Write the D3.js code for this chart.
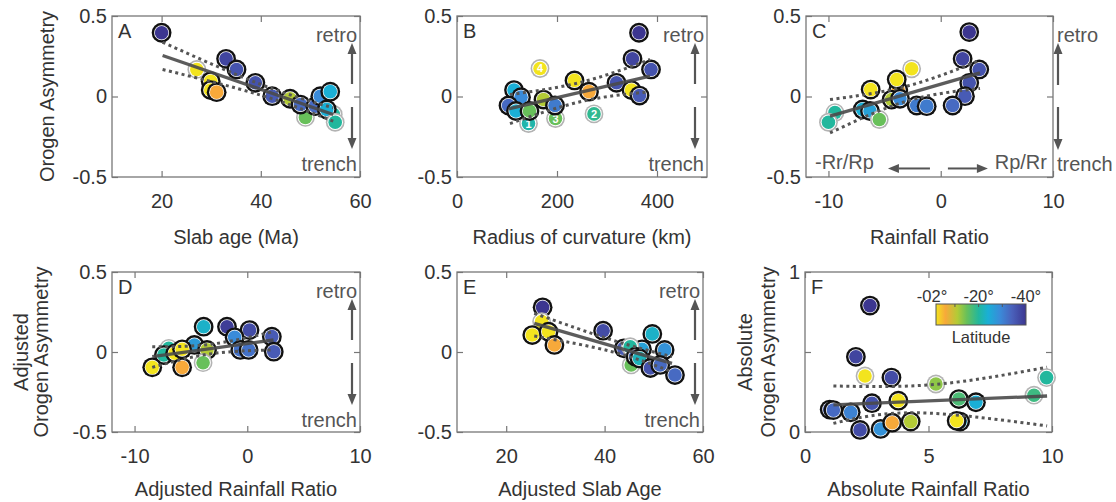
<!DOCTYPE html>
<html>
<head>
<meta charset="utf-8">
<script src="https://cdn.jsdelivr.net/npm/d3@7"></script>
<style>
  body { margin: 0; background: #fff; }
  svg { display: block; }
</style>
</head>
<body>
<svg id="fig" width="1116" height="502"></svg>
<script>
// ---- latitude colour map (degrees) ----
const latStops  = [-2, -6, -11, -15, -20, -24, -29, -34, -40];
const latColors = ["#f3e41e", "#f7a93a", "#b3cb36", "#68c05a", "#22b79d", "#1aafd6", "#3a8bd9", "#4a62bc", "#3c3690"];
const cbTicks = [-2, -20, -40];
const cbTickLabels = ["-02°", "-20°", "-40°"];

// ---- orogen points: [x, asymmetry, latitude, edge (1 = black, 0 = grey), label] ----
const ptsA = [
  [20.0, 0.396, -40, 1], [27.1, 0.168, -2, 0], [29.9, 0.095, -2, 1], [29.9, 0.040, -2, 1],
  [31.1, 0.027, -6, 1], [33.0, 0.234, -38, 1], [35.1, 0.168, -36, 1], [38.9, 0.085, -36, 1],
  [42.3, 0.002, -35, 1], [45.9, -0.014, -11, 1], [49.0, -0.130, -15, 0], [48.0, -0.050, -33, 1],
  [51.0, -0.060, -33, 1], [52.0, 0.002, -29, 1], [54.0, 0.030, -24, 1], [54.6, -0.110, -20, 0],
  [53.3, -0.080, -24, 1], [55.0, -0.160, -20, 0]
];
const ptsB = [
  [364, 0.396, -40, 1], [351, 0.234, -38, 1], [388, 0.168, -36, 1], [319, 0.085, -36, 1],
  [349, 0.040, -2, 1], [365, 0.006, -35, 1], [235, 0.100, -2, 1], [264, 0.030, -6, 1],
  [166, 0.174, -2, 0, "4"], [274, -0.108, -19, 0, "2"], [197, -0.137, -15, 0, "3"], [143, -0.168, -21, 0, "1"],
  [114, 0.040, -24, 1], [128, -0.004, -29, 1], [103, -0.056, -33, 1], [118, -0.090, -24, 1],
  [145, -0.090, -15, 1], [173, -0.019, -11, 1], [196, -0.056, -31, 1]
];
const ptsC = [
  [2.54, 0.400, -40, 1], [1.95, 0.234, -38, 1], [3.43, 0.168, -36, 1], [2.54, 0.085, -36, 1],
  [2.16, 0.002, -35, 1], [1.06, -0.056, -33, 1], [-2.59, 0.172, -2, 0], [-3.78, 0.040, -6, 1],
  [-3.92, 0.106, -2, 1], [-6.24, 0.043, -2, 1], [-4.37, -0.019, -11, 1], [-3.63, -0.014, -29, 1],
  [-2.14, -0.056, -31, 1], [-1.25, -0.060, -31, 1], [-6.95, -0.080, -24, 1], [-6.30, -0.090, -26, 1],
  [-5.47, -0.143, -15, 0], [-9.42, -0.100, -20, 0], [-10.0, -0.160, -20, 0]
];
const ptsD = [
  [-3.87, 0.158, -23, 1], [-1.80, 0.158, -39, 1], [0.20, 0.137, -37, 1], [-1.12, 0.092, -29, 1],
  [2.18, 0.096, -35, 1], [-0.62, 0.013, -32, 1], [0.12, 0.013, -32, 1], [2.35, 0.002, -35, 1],
  [-6.96, 0.023, -20, 0], [-7.40, -0.019, -20, 1], [-4.69, 0.044, -27, 1], [-6.40, -0.008, -2, 1],
  [-5.78, 0.017, -2, 1], [-3.57, 0.013, -11, 1], [-3.92, -0.067, -15, 0], [-5.78, -0.096, -6, 1],
  [-8.43, -0.096, -2, 1]
];
const ptsE = [
  [27.4, 0.279, -40, 1], [27.2, 0.190, -2, 0], [25.3, 0.106, -2, 1], [28.6, 0.127, -2, 1],
  [29.8, 0.044, -6, 1], [39.7, 0.133, -37, 1], [49.7, 0.113, -23, 1], [52.2, 0.013, -28, 1],
  [47.6, 0.017, -26, 1], [43.9, 0.023, -35, 1], [45.2, 0.033, -20, 0], [45.4, -0.081, -15, 0],
  [46.3, -0.029, -33, 1], [47.1, -0.040, -22, 1], [49.3, -0.100, -36, 1], [51.3, -0.081, -33, 1],
  [54.3, -0.144, -33, 1]
];
const ptsF = [
  [2.63, 0.790, -40, 1], [2.06, 0.470, -38, 1], [2.43, 0.350, -2, 0], [3.50, 0.340, -37, 1],
  [5.30, 0.300, -13, 0], [9.78, 0.340, -20, 0], [9.27, 0.230, -18, 0], [6.23, 0.206, -17, 1],
  [6.92, 0.186, -24, 1], [3.78, 0.196, -2, 1], [2.71, 0.180, -36, 1], [1.00, 0.140, -34, 1],
  [1.15, 0.137, -33, 1], [1.85, 0.123, -30, 1], [2.23, 0.013, -37, 1], [3.06, 0.019, -28, 1],
  [3.53, 0.058, -6, 1], [4.28, 0.065, -11, 1], [6.28, 0.065, -24, 1], [6.14, 0.070, -2, 1]
];

// ---- regression fits and confidence bounds: [x, y] ----
const fitA = [[20.2, 0.255], [54.6, -0.112]];
const upA  = [[20.2, 0.337], [40, 0.075], [54.6, -0.070]];
const loA  = [[20.2, 0.168], [40, 0.008], [54.6, -0.153]];
const fitB = [[103, -0.077], [386, 0.126]];
const upB  = [[106, 0.012], [250, 0.090], [386, 0.230]];
const loB  = [[106, -0.168], [250, -0.030], [379, 0.027]];
const fitC = [[-9.86, -0.122], [3.5, 0.147]];
const upC  = [[-9.86, -0.019], [-3.03, 0.064], [3.5, 0.225]];
const loC  = [[-9.86, -0.226], [-3.03, -0.029], [3.5, 0.050]];
const fitD = [[-8.43, -0.029], [2.33, 0.075]];
const upD  = [[-8.43, 0.033], [-3.3, 0.048], [2.3, 0.127]];
const loD  = [[-8.43, -0.096], [-3.3, -0.012], [2.3, 0.013]];
const fitE = [[25.7, 0.179], [53.7, -0.071]];
const upE  = [[25.7, 0.242], [41.5, 0.075], [53.7, -0.029]];
const loE  = [[25.7, 0.100], [41.5, 0.002], [53.7, -0.123]];
const fitF = [[1.15, 0.169], [9.8, 0.225]];
const upF  = [[1.15, 0.288], [5.3, 0.298], [9.8, 0.405]];
const loF  = [[1.15, 0.054], [4.5, 0.120], [9.8, 0.038]];

// ---- tick values ----
const xTicksAge = [20, 40, 60];
const xTicksRadius = [0, 200, 400];
const xTicksRatio = [-10, 0, 10];
const xTicksAbs = [0, 5, 10];
const yTicksAsym = [-0.5, 0, 0.5];
const yTicksAbs = [0, 0.5, 1];

// ---- layout ----
const FONT = "'Liberation Sans', Arial, Helvetica, sans-serif";
const TXT = "#333";
const AX = "#777";
const ANN = "#555";

const panels = [
  { key: "A", pts: ptsA, fit: fitA, up: upA, lo: loA, left: 112, top: 16, w: 248, h: 161,
    xd: [10, 60], xt: xTicksAge, yd: [-0.5, 0.5], yt: yTicksAsym, xlab: "Slab age (Ma)", xlabY: 67,
    ylab: ["Orogen Asymmetry"], ylabX: [54], arrows: "inside" },
  { key: "B", pts: ptsB, fit: fitB, up: upB, lo: loB, left: 457, top: 16, w: 250, h: 161,
    xd: [0, 500], xt: xTicksRadius, yd: [-0.5, 0.5], yt: yTicksAsym, xlab: "Radius of curvature (km)", xlabY: 67,
    arrows: "inside", arrowInset: 12 },
  { key: "C", pts: ptsC, fit: fitC, up: upC, lo: loC, left: 806, top: 16, w: 247, h: 161,
    xd: [-12, 10], xt: xTicksRatio, yd: [-0.5, 0.5], yt: yTicksAsym, xlab: "Rainfall Ratio", xlabY: 67,
    arrows: "outside", ratioArrows: true },
  { key: "D", pts: ptsD, fit: fitD, up: upD, lo: loD, left: 112, top: 272, w: 248, h: 160,
    xd: [-12, 10], xt: xTicksRatio, yd: [-0.5, 0.5], yt: yTicksAsym, xlab: "Adjusted Rainfall Ratio", xlabY: 64,
    ylab: ["Adjusted", "Orogen Asymmetry"], ylabX: [28, 48], arrows: "inside" },
  { key: "E", pts: ptsE, fit: fitE, up: upE, lo: loE, left: 457, top: 272, w: 246, h: 160,
    xd: [10, 60], xt: xTicksAge, yd: [-0.5, 0.5], yt: yTicksAsym, xlab: "Adjusted Slab Age", xlabY: 64,
    arrows: "inside" },
  { key: "F", pts: ptsF, fit: fitF, up: upF, lo: loF, left: 805, top: 272, w: 247, h: 160,
    xd: [0, 10], xt: xTicksAbs, yd: [0, 1], yt: yTicksAbs, yfmt: d => (d === 0.5 ? "" : String(d)),
    xlab: "Absolute Rainfall Ratio", xlabY: 64, ylab: ["Absolute", "Orogen Asymmetry"], ylabX: [-53, -30],
    colorbar: true }
];

const latColor = d3.scaleLinear().domain(latStops).range(latColors).interpolate(d3.interpolateRgb).clamp(true);
const svg = d3.select("#fig");

function vArrow(g, x, yTail, yTip) {
  const s = yTip < yTail ? 1 : -1, hl = 11, hw = 4.5;
  g.append("line").attr("x1", x).attr("x2", x).attr("y1", yTail).attr("y2", yTip + s * hl)
    .attr("stroke", ANN).attr("stroke-width", 2.2);
  g.append("path").attr("d", `M${x},${yTip} L${x - hw},${yTip + s * hl} L${x + hw},${yTip + s * hl} Z`)
    .attr("fill", ANN);
}
function hArrow(g, xTail, xTip, y) {
  const s = xTip < xTail ? 1 : -1, hl = 11, hw = 4.5;
  g.append("line").attr("y1", y).attr("y2", y).attr("x1", xTail).attr("x2", xTip + s * hl)
    .attr("stroke", ANN).attr("stroke-width", 2);
  g.append("path").attr("d", `M${xTip},${y} L${xTip + s * hl},${y - hw} L${xTip + s * hl},${y + hw} Z`)
    .attr("fill", ANN);
}
function label(g, txt, x, y, anchor, size, fill) {
  return g.append("text").attr("x", x).attr("y", y).attr("text-anchor", anchor || "start")
    .attr("font-family", FONT).attr("font-size", size || 20).attr("fill", fill || TXT).text(txt);
}

panels.forEach(p => {
  const x = d3.scaleLinear().domain(p.xd).range([0, p.w]);
  const y = d3.scaleLinear().domain(p.yd).range([p.h, 0]);
  const g = svg.append("g").attr("transform", `translate(${p.left},${p.top})`);

  // axes with inward ticks on all four sides
  const yf = p.yfmt || (d => String(d));
  g.append("g").attr("transform", `translate(0,${p.h})`)
    .call(d3.axisBottom(x).tickValues(p.xt).tickSize(-6).tickPadding(17).tickFormat(d => String(d)));
  g.append("g").call(d3.axisTop(x).tickValues(p.xt).tickSize(-6).tickFormat(""));
  g.append("g").call(d3.axisLeft(y).tickValues(p.yt).tickSize(-6).tickPadding(5).tickFormat(yf));
  g.append("g").attr("transform", `translate(${p.w},0)`)
    .call(d3.axisRight(y).tickValues(p.yt).tickSize(-6).tickFormat(""));
  g.selectAll(".domain").remove();
  g.selectAll(".tick line").attr("stroke", AX).attr("stroke-width", 1.2);
  g.selectAll(".tick text").attr("fill", TXT).attr("font-family", FONT).attr("font-size", 20);
  g.append("rect").attr("width", p.w).attr("height", p.h)
    .attr("fill", "none").attr("stroke", AX).attr("stroke-width", 1.3);

  // axis titles
  label(g, p.xlab, p.w / 2, p.h + p.xlabY, "middle");
  if (p.ylab) {
    p.ylab.forEach((t, i) => {
      const bx = p.key === "F" ? p.ylabX[i] : p.ylabX[i] - p.left;
      g.append("text").attr("transform", `translate(${bx},${p.h / 2}) rotate(-90)`)
        .attr("text-anchor", "middle").attr("font-family", FONT).attr("font-size", 20)
        .attr("fill", TXT).text(t);
    });
  }

  // panel letter
  label(g, p.key, 6, 22, "start");

  // retro / trench indicators
  if (p.arrows === "inside") {
    const ax = p.w - (p.arrowInset || 8);
    label(g, "retro", p.w - 3, 26, "end", 20, ANN);
    label(g, "trench", p.w - 3, 155, "end", 20, ANN);
    vArrow(g, ax, 68, 27);
    vArrow(g, ax, 91, 133);
  } else if (p.arrows === "outside") {
    const ax = p.w + 5;
    label(g, "retro", ax - 1, 26, "start", 20, ANN);
    label(g, "trench", ax - 1, 155, "start", 20, ANN);
    vArrow(g, ax, 69, 27);
    vArrow(g, ax, 91, 134);
  }
  if (p.ratioArrows) {
    label(g, "-Rr/Rp", x(-11.2), y(-0.453), "start", 20, ANN);
    label(g, "Rp/Rr", x(9.46), y(-0.453), "end", 20, ANN);
    hArrow(g, x(-0.96), x(-4.7), y(-0.447));
    hArrow(g, x(0.64), x(4.2), y(-0.447));
  }

  // orogen markers
  const mk = g.append("g").selectAll("g").data(p.pts).join("g")
    .attr("transform", d => `translate(${x(d[0])},${y(d[1])})`);
  mk.append("circle").attr("r", d => (d[3] ? 9.9 : 9.4)).attr("fill", d => (d[3] ? "#111" : "#b3b3b3"));
  mk.append("circle").attr("r", d => (d[3] ? 7.5 : 7.8)).attr("fill", "#fff");
  mk.append("circle").attr("r", 6.8).attr("fill", d => latColor(d[2]));
  mk.filter(d => d[4]).append("text").attr("text-anchor", "middle").attr("dy", "0.36em")
    .attr("font-family", FONT).attr("font-size", 11).attr("font-weight", "bold")
    .attr("fill", "#fff").text(d => d[4]);

  // confidence bounds and least-squares fit
  const band = d3.line().x(d => x(d[0])).y(d => y(d[1])).curve(d3.curveNatural);
  const straight = d3.line().x(d => x(d[0])).y(d => y(d[1]));
  [p.up, p.lo].forEach(b => {
    g.append("path").attr("d", band(b)).attr("fill", "none").attr("stroke", "#555")
      .attr("stroke-width", 3).attr("stroke-dasharray", "3,3.5");
  });
  g.append("path").attr("d", straight(p.fit)).attr("fill", "none").attr("stroke", "#4a4a4a")
    .attr("stroke-width", 3.3).attr("opacity", 0.9);

  // latitude colour bar
  if (p.colorbar) {
    const cb = g.append("g").attr("transform", "translate(131,32)");
    const cw = 90, ch = 21;
    const cx = d3.scaleLinear().domain([latStops[0], latStops[latStops.length - 1]]).range([0, cw]);
    const grad = svg.append("defs").append("linearGradient").attr("id", "latGrad")
      .attr("x1", "0%").attr("x2", "100%").attr("y1", "0%").attr("y2", "0%");
    latStops.forEach((s, i) => {
      grad.append("stop").attr("offset", (cx(s) / cw * 100) + "%").attr("stop-color", latColors[i]);
    });
    cb.append("rect").attr("width", cw).attr("height", ch).attr("fill", "url(#latGrad)")
      .attr("stroke", "#555").attr("stroke-width", 1);
    [-10, -20, -30].forEach(t => {
      cb.append("line").attr("x1", cx(t)).attr("x2", cx(t)).attr("y1", 0).attr("y2", 3)
        .attr("stroke", "#555").attr("stroke-width", 1);
    });
    cbTicks.forEach((t, i) => {
      label(cb, cbTickLabels[i], cx(t) - (i === 0 ? 4 : 0), -2, "middle", 16.5, TXT);
    });
    label(cb, "Latitude", cw / 2, ch + 18, "middle", 16.5, TXT);
  }
});
</script>
</body>
</html>
